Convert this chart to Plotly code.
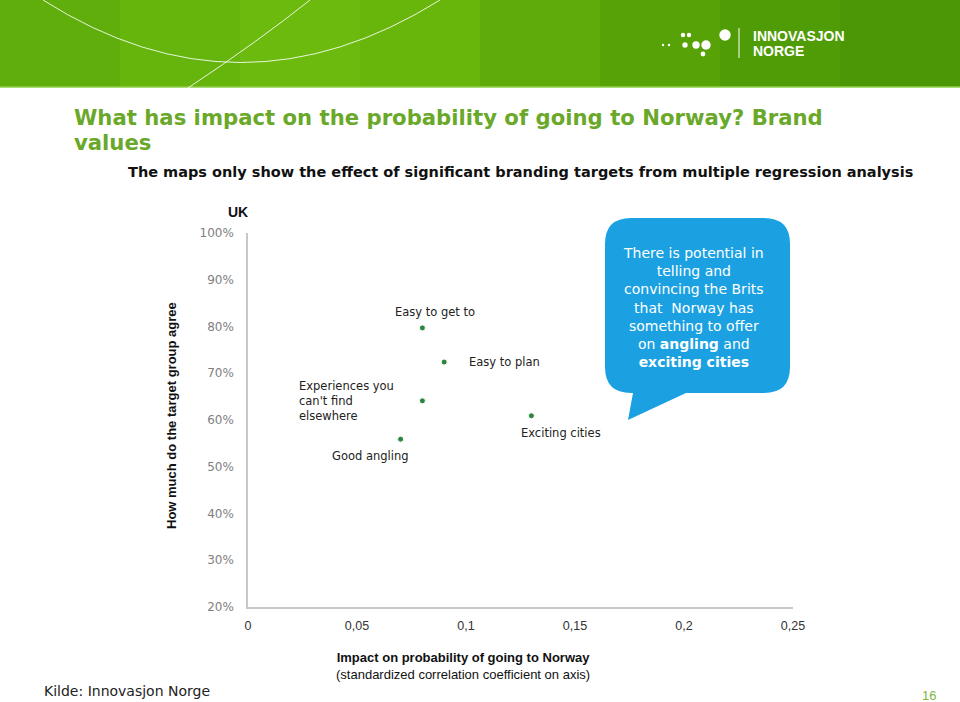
"""UK brand values scatter — impact vs agreement."""

import plotly.graph_objects as go

# data
labels = ["Easy to get to", "Easy to plan", "Experiences you<br>can't find<br>elsewhere",
          "Exciting cities", "Good angling"]
impact = [0.080, 0.090, 0.080, 0.130, 0.070]
agree = [0.797, 0.724, 0.641, 0.609, 0.559]

x_ticks = [0, 0.05, 0.10, 0.15, 0.20, 0.25]
x_ticktext = ["0", "0,05", "0,1", "0,15", "0,2", "0,25"]
y_ticks = [0.2, 0.3, 0.4, 0.5, 0.6, 0.7, 0.8, 0.9, 1.0]
y_ticktext = ["20%", "30%", "40%", "50%", "60%", "70%", "80%", "90%", "100%"]

# (xanchor, xshift, yshift) per label
label_pos = [
    ("center", 13, 16),
    ("left", 23, 0),
    ("right", -26, 0),
    ("left", -12, -17),
    ("center", -30, -17),
]

W, H = 960, 702
L, R, T, B = 248, 793, 233, 607  # plot area in pixels


def px(x):
    return (x - L) / (R - L)


def py(y):
    return (B - y) / (B - T)


fig = go.Figure()
fig.add_trace(go.Scatter(
    x=impact, y=agree, mode="markers",
    marker={"size": 6, "color": "#2e8540", "line": {"width": 1, "color": "#ffffff"}},
    hoverinfo="skip",
))

shapes = []
# header band (stepped gradient)
greens = ["#5fae0b", "#66b50c", "#6cba0d", "#68b60c", "#5fab0a", "#57a207", "#509c06", "#4b9705"]
step = W / len(greens)
for i, c in enumerate(greens):
    shapes.append(dict(type="rect", xref="paper", yref="paper", layer="below",
                       x0=px(i * step), x1=px((i + 1) * step + 1), y0=py(0), y1=py(87),
                       line={"width": 0}, fillcolor=c))
shapes.append(dict(type="line", xref="paper", yref="paper", x0=px(0), x1=px(W), y0=py(87), y1=py(87),
                   line={"width": 1.5, "color": "#8fcf4a"}))


def qpath(p0, c, p1):
    return (f"M {px(p0[0]):.5f},{py(p0[1]):.5f} Q {px(c[0]):.5f},{py(c[1]):.5f} "
            f"{px(p1[0]):.5f},{py(p1[1]):.5f}")


shapes.append(dict(type="path", xref="paper", yref="paper", path=qpath((43, 0), (240, 125), (440, 0)),
                   line={"width": 1, "color": "rgba(255,255,255,0.85)"}))
shapes.append(dict(type="path", xref="paper", yref="paper", path=qpath((188, 88), (260, 40), (310, 0)),
                   line={"width": 1, "color": "rgba(255,255,255,0.85)"}))

# logo dots
for cx, cy, r in [(663, 45, 1.2), (669, 45, 1.2), (683, 35, 2.2), (689, 35, 2.2), (685, 45, 2.7),
                  (696, 45, 3.7), (706, 45, 4.7), (703, 54, 2.4), (725, 35, 5.7)]:
    shapes.append(dict(type="circle", xref="paper", yref="paper",
                       x0=px(cx - r), x1=px(cx + r), y0=py(cy - r), y1=py(cy + r),
                       line={"width": 0}, fillcolor="white"))
shapes.append(dict(type="line", xref="paper", yref="paper", x0=px(739), x1=px(739), y0=py(28), y1=py(58),
                   line={"width": 1, "color": "white"}))

# callout bubble
x0, x1, y0, y1, rr = 605, 790, 218, 393, 26
bubble = (f"M {px(x0 + rr)},{py(y0)} L {px(x1 - rr)},{py(y0)} "
          f"Q {px(x1)},{py(y0)} {px(x1)},{py(y0 + rr)} L {px(x1)},{py(y1 - rr)} "
          f"Q {px(x1)},{py(y1)} {px(x1 - rr)},{py(y1)} L {px(686)},{py(y1)} "
          f"L {px(628)},{py(420)} L {px(633)},{py(y1)} L {px(x0 + rr)},{py(y1)} "
          f"Q {px(x0)},{py(y1)} {px(x0)},{py(y1 - rr)} L {px(x0)},{py(y0 + rr)} "
          f"Q {px(x0)},{py(y0)} {px(x0 + rr)},{py(y0)} Z")
shapes.append(dict(type="path", xref="paper", yref="paper", path=bubble,
                   line={"width": 0}, fillcolor="#1ba1e2"))

annotations = []
for txt, (xa, xs, ys), xv, yv in zip(labels, label_pos, impact, agree):
    annotations.append(dict(x=xv, y=yv, xref="x", yref="y", text=txt, showarrow=False,
                            xanchor=xa, yanchor="middle", xshift=xs, yshift=ys, align="left",
                            font={"family": "DejaVu Sans", "size": 11.5, "color": "#222222"}))


def note(x, y, text, size, color="#000000", family="Liberation Sans", xanchor="left", **kw):
    annotations.append(dict(x=px(x), y=py(y), xref="paper", yref="paper", text=text,
                            showarrow=False, xanchor=xanchor, yanchor="middle",
                            font={"family": family, "size": size, "color": color}, **kw))


note(72, 117, "<b>What has impact on the probability of going to Norway? Brand</b>", 21.2, "#6aa82a",
     family="DejaVu Sans")
note(72, 143, "<b>values</b>", 21.2, "#6aa82a", family="DejaVu Sans")
note(126, 172, "<b>The maps only show the effect of significant branding targets from multiple regression analysis</b>",
     14.5, "#111111", family="DejaVu Sans")
note(226, 212, "<b>UK</b>", 14, "#111111", family="Liberation Sans")
note(171, 416, "<b>How much do the target group agree</b>", 13, "#111111", xanchor="center", textangle=-90)
note(751, 36, "<b>INNOVASJON</b>", 14, "white", family="Liberation Sans")
note(751, 51, "<b>NORGE</b>", 14, "white", family="Liberation Sans")
note(693, 307, "There is potential in<br>telling and<br>convincing the Brits<br>that  Norway has<br>"
     "something to offer<br>on <b>angling</b> and<br><b>exciting cities</b>",
     14, "white", family="DejaVu Sans", xanchor="center", align="center")
note(463, 666, "<b>Impact on probability of going to Norway</b><br>(standardized correlation coefficient on axis)",
     13, "#111111", family="Liberation Sans", xanchor="center", align="center")
note(42, 691, "Kilde: Innovasjon Norge", 14, "#222222", family="DejaVu Sans")
note(938, 695, "16", 13, "#7fb53a", family="Liberation Sans", xanchor="right")

fig.update_layout(
    width=W, height=H,
    margin={"l": L, "r": W - R, "t": T, "b": H - B, "pad": 0},
    paper_bgcolor="white", plot_bgcolor="white",
    showlegend=False,
    shapes=shapes, annotations=annotations,
    xaxis={"range": [0, 0.25], "tickvals": x_ticks, "ticktext": x_ticktext, "showgrid": False,
           "zeroline": False, "showline": True, "linecolor": "#c8c8c8", "linewidth": 1.5,
           "ticks": "", "ticklabelstandoff": 6,
           "tickfont": {"family": "Liberation Sans", "size": 12.5, "color": "#333333"}},
    yaxis={"range": [0.2, 1.0], "tickvals": y_ticks, "ticktext": y_ticktext, "showgrid": False,
           "zeroline": False, "showline": True, "linecolor": "#c8c8c8", "linewidth": 1.5,
           "ticks": "", "ticklabelstandoff": 10,
           "tickfont": {"family": "DejaVu Sans", "size": 12, "color": "#808080"}},
)

# the page's default body margin would push the figure 8px down/right
fig.write_html("out.html", config={"displayModeBar": False},
               post_script="document.body.style.margin='0';")
